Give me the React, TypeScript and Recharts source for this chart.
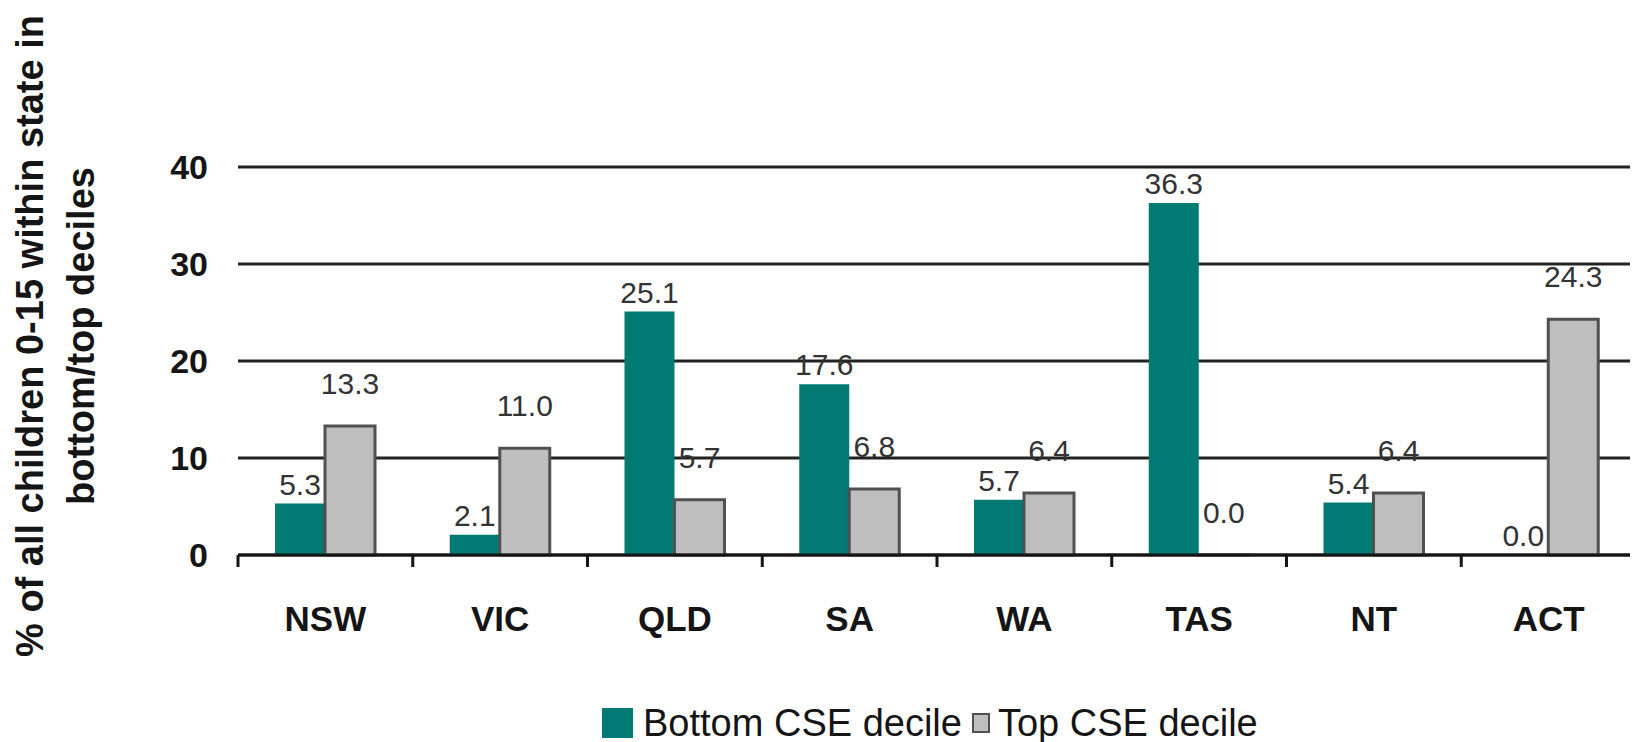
import { BarChart, Bar, XAxis, YAxis, CartesianGrid, LabelList, Legend } from "recharts"

const states = ["NSW", "VIC", "QLD", "SA", "WA", "TAS", "NT", "ACT"]
const bottomDecile = [5.3, 2.1, 25.1, 17.6, 5.7, 36.3, 5.4, 0.0]
const topDecile = [13.3, 11.0, 5.7, 6.8, 6.4, 0.0, 6.4, 24.3]
const yTicks = [0, 10, 20, 30, 40]
const seriesNames = ["Bottom CSE decile", "Top CSE decile"]

const data = states.map((state, i) => ({ state, bottom: bottomDecile[i], top: topDecile[i] }))

const FONT = "'Liberation Sans', Arial, Helvetica, sans-serif"
const TEAL = "#007A73"
const GREY = "#BEBEBE"
const GREY_EDGE = "#505050"
const INK = "#151515"

const W = 1630
const H = 734
const X_AXIS_H = 100
// bottom space below the plot = 187px, of which the x axis takes X_AXIS_H
const MARGIN = { top: 159, right: 2, bottom: 187 - X_AXIS_H, left: 0 }
const PLOT_W = W - 230 - MARGIN.right

function CategoryTick(props: any) {
  const { x, y, payload, index, visibleTicksCount } = props
  const half = payload?.offset || PLOT_W / states.length / 2
  const isLast = index === visibleTicksCount - 1
  return (
    <g>
      <line x1={x - half} x2={x - half} y1={y} y2={y + 12} stroke={INK} strokeWidth={3} />
      {isLast && <line x1={x + half} x2={x + half} y1={y} y2={y + 12} stroke={INK} strokeWidth={3} />}
      <text
        x={x}
        y={y + 63}
        textAnchor="middle"
        dominantBaseline="central"
        fill={INK}
        style={{ fontFamily: FONT, fontSize: 35, fontWeight: 700 }}
      >
        {payload.value}
      </text>
    </g>
  )
}

function AxisTitle() {
  const cy = 328
  const common = {
    textAnchor: "middle" as const,
    fill: INK,
    style: { fontFamily: FONT, fontSize: 38, fontWeight: 700 },
  }
  return (
    <g>
      <text x={35} y={cy} transform={`rotate(-90 35 ${cy})`} {...common}>
        % of all children 0-15 within state in
      </text>
      <text x={86} y={cy} transform={`rotate(-90 86 ${cy})`} {...common}>
        bottom/top deciles
      </text>
    </g>
  )
}

function CustomLegend() {
  const text = { fontFamily: FONT, fontSize: 38, color: INK, lineHeight: "36px" }
  return (
    <div style={{ display: "flex", alignItems: "center", whiteSpace: "nowrap" }}>
      <span style={{ width: 31, height: 30, background: TEAL, display: "inline-block", marginRight: 10 }} />
      <span style={text}>{seriesNames[0]}</span>
      <span
        style={{
          width: 14,
          height: 16,
          background: GREY,
          border: `2px solid ${GREY_EDGE}`,
          display: "inline-block",
          marginLeft: 10,
          marginRight: 8,
        }}
      />
      <span style={text}>{seriesNames[1]}</span>
    </div>
  )
}

const fmt = (v: any) => Number(v).toFixed(1)

export default function App() {
  return (
    <div style={{ width: W, height: H, background: "#fff" }}>
      <BarChart width={W} height={H} data={data} margin={MARGIN} barCategoryGap={37} barGap={0}>
        <CartesianGrid horizontal vertical={false} stroke="#222" strokeWidth={3} />
        <XAxis
          dataKey="state"
          axisLine={{ stroke: INK, strokeWidth: 3 }}
          tickLine={false}
          tickSize={0}
          tickMargin={0}
          height={X_AXIS_H}
          interval={0}
          tick={<CategoryTick />}
        />
        <YAxis
          domain={[0, 40]}
          ticks={yTicks}
          width={230}
          axisLine={false}
          tickLine={false}
          tickSize={0}
          tickMargin={30}
          tick={{ fill: INK, fontSize: 34, fontWeight: 700, fontFamily: FONT }}
          label={{ content: () => <AxisTitle /> }}
        />
        <Legend
          layout="horizontal"
          verticalAlign="middle"
          align="center"
          wrapperStyle={{ top: 697, left: 594, width: 720 }}
          content={() => <CustomLegend />}
        />
        {/* minPointSize keeps the 0.0 labels, which recharts drops for empty bars */}
        <Bar dataKey="bottom" name={seriesNames[0]} fill={TEAL} minPointSize={0.01} isAnimationActive={false}>
          <LabelList
            dataKey="bottom"
            position="top"
            offset={9}
            formatter={fmt}
            fill="#333"
            style={{ fontFamily: FONT, fontSize: 30 }}
          />
        </Bar>
        <Bar
          dataKey="top"
          name={seriesNames[1]}
          fill={GREY}
          stroke={GREY_EDGE}
          strokeWidth={3}
          minPointSize={0.01}
          isAnimationActive={false}
        >
          <LabelList
            dataKey="top"
            position="top"
            offset={32}
            formatter={fmt}
            fill="#333"
            style={{ fontFamily: FONT, fontSize: 30 }}
          />
        </Bar>
      </BarChart>
    </div>
  )
}
